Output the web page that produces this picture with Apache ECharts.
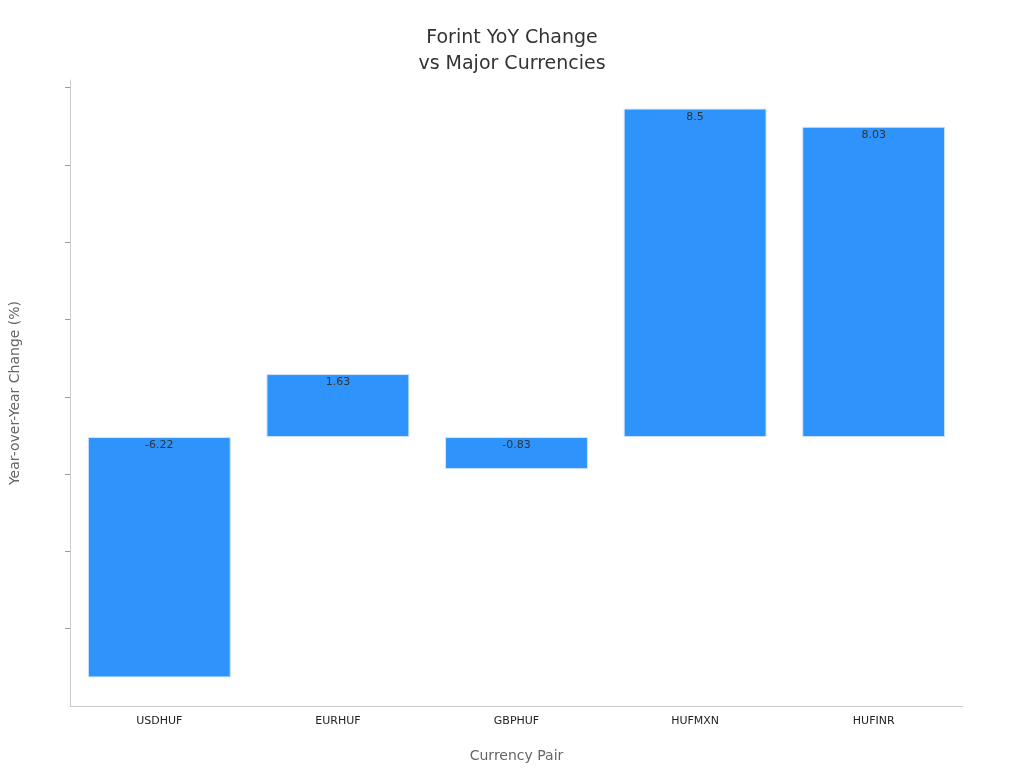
<!DOCTYPE html>
<html><head><meta charset="utf-8">
<script src="https://cdn.jsdelivr.net/npm/echarts@6/dist/echarts.min.js"></script>
<style>html,body{margin:0;padding:0;background:#fff}#c{width:1024px;height:768px}</style>
</head><body><div id="c"></div>
<script>
const categories = ["USDHUF","EURHUF","GBPHUF","HUFMXN","HUFINR"];
const values = [-6.22, 1.63, -0.83, 8.5, 8.03];
const yTicks = [-6,-4,-2,0,2,4,6,8];

const chart = echarts.init(document.getElementById('c'));
const font = "DejaVu Sans";
chart.setOption({
  animation:false,
  title:{text:"Forint YoY Change\nvs Major Currencies",left:'center',top:20,
    textStyle:{fontFamily:font,fontSize:19,fontWeight:'normal',color:'#333',lineHeight:26}},
  grid:{left:62,right:61,top:80,bottom:60},
  xAxis:{type:'category',data:categories,name:'Currency Pair',nameLocation:'middle',nameGap:43,
    nameTextStyle:{fontFamily:font,fontSize:14,color:'#666'},
    axisLine:{onZero:false,lineStyle:{color:'#ccc'}},axisTick:{alignWithLabel:true,lineStyle:{color:'#999'}},
    axisLabel:{fontFamily:font,fontSize:11,color:'#222',margin:10}},
  yAxis:{type:'value',min:-6.96,max:9.24,interval:2,name:'Year-over-Year Change (%)',nameLocation:'middle',nameGap:48,
    nameTextStyle:{fontFamily:font,fontSize:14,color:'#666'},
    splitLine:{show:false},axisLine:{show:true,lineStyle:{color:'#ccc'}},axisTick:{show:true,lineStyle:{color:'#999'}},
    axisLabel:{fontFamily:font,fontSize:11,color:'#222',showMinLabel:false,showMaxLabel:false,
      formatter:v=>yTicks.includes(Math.round(v*100)/100)?String(v).replace('-','\u2212'):''}},
  series:[{type:'bar',data:values,barWidth:'80%',
    itemStyle:{color:'#2E93FA',borderColor:'#cfe4fb',borderWidth:1},
    label:{show:true,position:'insideTop',distance:3,fontFamily:font,fontSize:11,color:'#333',
      formatter:p=>String(p.value)}}]
});
</script></body></html>
